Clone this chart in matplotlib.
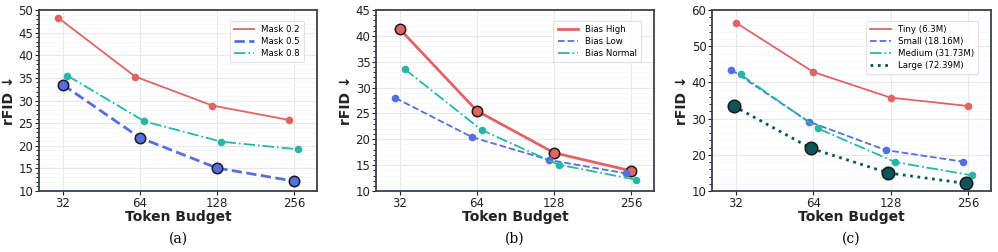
import matplotlib
matplotlib.use("Agg")
import matplotlib.pyplot as plt
import numpy as np
from matplotlib.ticker import AutoMinorLocator, MultipleLocator
from matplotlib.lines import Line2D

budgets = ["32", "64", "128", "256"]

mask_labels = ["Mask 0.2", "Mask 0.5", "Mask 0.8"]
mask_02 = [48.3, 35.3, 28.9, 25.7]
mask_05 = [33.5, 21.8, 15.1, 12.2]
mask_08 = [35.5, 25.4, 20.9, 19.2]

bias_labels = ["Bias High", "Bias Low", "Bias Normal"]
bias_high = [41.3, 25.5, 17.4, 13.9]
bias_low = [28.0, 20.4, 16.0, 13.4]
bias_normal = [33.6, 21.8, 15.1, 12.2]

size_labels = ["Tiny (6.3M)", "Small (18.16M)", "Medium (31.73M)", "Large (72.39M)"]
size_tiny = [56.5, 42.9, 35.8, 33.5]
size_small = [43.5, 29.2, 21.3, 18.1]
size_medium = [42.2, 27.3, 18.0, 14.3]
size_large = [33.5, 21.8, 15.0, 12.1]

RED = "#e06464"
BLUE = "#5470e0"
TEAL = "#26b8a6"
DARK = "#0b5656"

fig = plt.figure(figsize=(9.98, 2.52), dpi=100)
x = np.arange(len(budgets))

def style(ax, ylim, major, cap):
    ax.set_xlim(-0.31, 3.3)
    ax.set_ylim(*ylim)
    ax.set_xticks(x)
    ax.set_xticklabels(budgets)
    ax.yaxis.set_major_locator(MultipleLocator(major))
    ax.yaxis.set_minor_locator(AutoMinorLocator(5))
    ax.grid(True, which="major", color="#e8e8e8", lw=0.8)
    ax.grid(True, which="minor", axis="y", color="#f6f6f6", lw=0.5)
    ax.set_axisbelow(True)
    for s in ax.spines.values():
        s.set_color("#3a3f4b")
        s.set_linewidth(1.3)
    ax.tick_params(axis="both", labelsize=8.5, colors="#222", length=3, width=0.8, pad=1)
    ax.tick_params(axis="y", which="minor", length=2, width=0.6)
    ax.set_xlabel("Token Budget", fontsize=10, fontweight="bold", color="#222", labelpad=0)
    ax.set_ylabel("rFID \u2193", fontsize=10, fontweight="bold", color="#222", labelpad=2)
    ax.text(0.5, -0.225, cap, transform=ax.transAxes, ha="center", va="top",
            fontsize=10, family="DejaVu Serif")

def plain(ax, xs, ys, color, ls, lw, label):
    ax.plot(xs, ys, color=color, ls=ls, lw=lw, marker="o", ms=5.5,
            mec=color, mew=0, label=label)

def big(ax, xs, ys, color, ls, lw, label, ms=7.5):
    ax.plot(xs, ys, color=color, ls=ls, lw=lw, marker="o", ms=ms,
            mec="#1a1a1a", mew=1.1, label=label)

def legend(ax):
    handles = [Line2D([], [], color=l.get_color(), ls=l.get_linestyle(),
                      lw=l.get_linewidth()) for l in ax.get_lines()]
    labels = [l.get_label() for l in ax.get_lines()]
    leg = ax.legend(handles, labels, loc="upper right", fontsize=6.2, frameon=True,
                    borderpad=0.5, handlelength=2.4, labelspacing=0.35,
                    handletextpad=0.8, bbox_to_anchor=(0.97, 0.965))
    leg.get_frame().set_edgecolor("#dddddd")
    leg.get_frame().set_linewidth(0.8)

# (a)
ax1 = fig.add_axes([0.039, 0.242, 0.2786, 0.718])
plain(ax1, x - 0.06, mask_02, RED, "-", 1.3, mask_labels[0])
big(ax1, x, mask_05, BLUE, "--", 2.0, mask_labels[1])
plain(ax1, x + 0.06, mask_08, TEAL, "-.", 1.3, mask_labels[2])
style(ax1, (10, 50), 5, "(a)")
legend(ax1)

# (b)
ax2 = fig.add_axes([0.3768, 0.242, 0.2786, 0.718])
big(ax2, x, bias_high, RED, "-", 2.0, bias_labels[0])
plain(ax2, x - 0.06, bias_low, BLUE, "--", 1.3, bias_labels[1])
plain(ax2, x + 0.06, bias_normal, TEAL, "-.", 1.3, bias_labels[2])
style(ax2, (10, 45), 5, "(b)")
legend(ax2)

# (c)
ax3 = fig.add_axes([0.7134, 0.242, 0.2796, 0.718])
plain(ax3, x, size_tiny, RED, "-", 1.3, size_labels[0])
plain(ax3, x - 0.06, size_small, BLUE, "--", 1.3, size_labels[1])
plain(ax3, x + 0.06, size_medium, TEAL, "-.", 1.3, size_labels[2])
big(ax3, x - 0.03, size_large, DARK, ":", 2.0, size_labels[3], ms=9)
style(ax3, (10, 60), 10, "(c)")
legend(ax3)

fig.savefig("out.png", dpi=100)
